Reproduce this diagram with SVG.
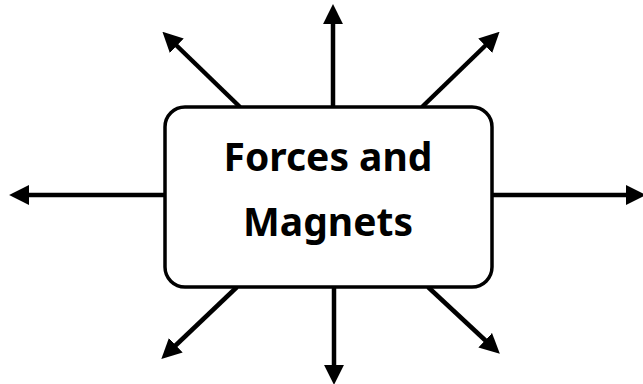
<svg xmlns="http://www.w3.org/2000/svg" width="643" height="384" viewBox="0 0 643 384">
<style>
.conn{stroke:#000;stroke-width:4.5;fill:none;marker-end:url(#ah)}
.box{fill:#fff;stroke:#000;stroke-width:3.5}
.lbl{font-family:"Noto Sans","DejaVu Sans",sans-serif;font-weight:bold;font-size:39px;fill:#000;text-anchor:middle}
</style>
<defs>
<marker id="ah" markerUnits="userSpaceOnUse" markerWidth="20" markerHeight="20" viewBox="0 0 18 18" refX="1" refY="9" orient="auto">
<path d="M0,0 L18,9 L0,18 z" fill="#000"/>
</marker>
</defs>
<g id="connectors">
<line class="conn" x1="333" y1="107" x2="333" y2="23"/>
<line class="conn" x1="240" y1="107" x2="176" y2="45"/>
<line class="conn" x1="422" y1="107" x2="486" y2="45"/>
<line class="conn" x1="165" y1="195" x2="28" y2="195"/>
<line class="conn" x1="492" y1="195" x2="627" y2="195"/>
<line class="conn" x1="237" y1="287" x2="175" y2="346"/>
<line class="conn" x1="334" y1="287" x2="334" y2="366"/>
<line class="conn" x1="428" y1="287" x2="486" y2="341"/>
</g>
<g id="center">
<rect class="box" x="165" y="107" width="327" height="180" rx="20" ry="20"/>
<text class="lbl" x="328" y="171">Forces and</text>
<text class="lbl" x="328" y="236">Magnets</text>
</g>
</svg>
